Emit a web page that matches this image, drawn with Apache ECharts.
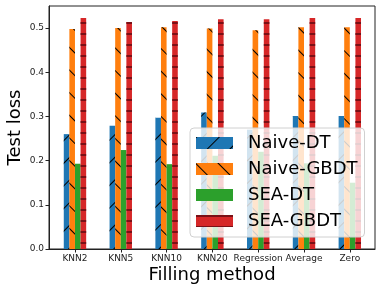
<!DOCTYPE html>
<html><head><meta charset="utf-8">
<script src="https://cdn.jsdelivr.net/npm/echarts@6/dist/echarts.min.js"></script>
<style>html,body{margin:0;padding:0;background:#fff}#c{width:382px;height:293px}</style>
</head><body><div id="c"></div>
<script>
const categories = ['KNN2','KNN5','KNN10','KNN20','Regression','Average','Zero'];
const naiveDT   = [0.260, 0.279, 0.297, 0.309, 0.270, 0.301, 0.301];
const naiveGBDT = [0.498, 0.500, 0.502, 0.499, 0.495, 0.502, 0.502];
const seaDT     = [0.193, 0.224, 0.192, 0.211, 0.220, 0.194, 0.150];
const seaGBDT   = [0.523, 0.514, 0.516, 0.520, 0.520, 0.523, 0.523];
const yTicks = [0, 0.1, 0.2, 0.3, 0.4, 0.5];
const xTicks = [0, 1, 2, 3, 4, 5, 6];

const FONT = 'DejaVu Sans';
const chart = echarts.init(document.getElementById('c'), null, {renderer:'canvas'});
const toPts = arr => arr.map((v,i)=>[i,v]);
function mk(name, data, color, decal){
  return {name, type:'bar', data: toPts(data), barWidth:5.6, barGap:'0%',
    itemStyle:{color, decal}, emphasis:{disabled:true}};
}
chart.setOption({
  animation:false,
  textStyle:{fontFamily:FONT},
  grid:{left:49, right:7, top:6, bottom:44, containLabel:false, outerBoundsMode:'none',
    show:true, borderColor:'#222', borderWidth:1, backgroundColor:'transparent'},
  xAxis:{type:'value', min:-0.567, max:6.55,
    name:'Filling method', nameLocation:'middle', nameGap:17, nameMoveOverlap:false,
    nameTextStyle:{fontSize:18, color:'#000', fontFamily:FONT, verticalAlign:'top'},
    axisLine:{show:true, onZero:false, lineStyle:{color:'#222', width:1}},
    axisTick:{show:true, length:3.5, lineStyle:{color:'#222'}, customValues:xTicks},
    axisLabel:{fontSize:9, color:'#222', margin:5, fontFamily:FONT, customValues:xTicks,
      formatter:v=>categories[Math.round(v)]},
    splitLine:{show:false}},
  yAxis:{type:'value', min:0, max:0.55,
    name:'Test loss', nameLocation:'middle', nameGap:25, nameMoveOverlap:false,
    nameTextStyle:{fontSize:18, color:'#000', fontFamily:FONT},
    axisLine:{show:true, onZero:false, lineStyle:{color:'#222', width:1}},
    axisTick:{show:true, length:3.5, lineStyle:{color:'#222'}, customValues:yTicks},
    axisLabel:{fontSize:9, color:'#222', margin:5, fontFamily:FONT, customValues:yTicks,
      formatter:v=>v.toFixed(1)},
    splitLine:{show:false}},
  legend:{left:190, top:128, orient:'vertical', itemWidth:37, itemHeight:12, itemGap:8,
    icon:'rect', padding:[6,7,7,6],
    backgroundColor:'rgba(255,255,255,0.8)', borderColor:'#d0d0d0', borderWidth:1, borderRadius:4,
    textStyle:{fontSize:18, color:'#000', fontFamily:FONT, lineHeight:18, padding:[0,0,0,10]},
    itemStyle:{borderWidth:0}},
  series:[
    mk('Naive-DT', naiveDT, '#1f77b4', {symbol:'rect', symbolSize:1, color:'#000', dashArrayX:[1,0], dashArrayY:[1,14.5], rotation:-Math.PI/4}),
    mk('Naive-GBDT', naiveGBDT, '#ff7f0e', {symbol:'rect', symbolSize:1, color:'#000', dashArrayX:[1,0], dashArrayY:[1,14.5], rotation:Math.PI/4}),
    mk('SEA-DT', seaDT, '#2ca02c', null),
    mk('SEA-GBDT', seaGBDT, '#d62728', {symbol:'rect', symbolSize:1, color:'#7a1016', dashArrayX:[1,0], dashArrayY:[2,9], rotation:0})
  ]
});
</script></body></html>
